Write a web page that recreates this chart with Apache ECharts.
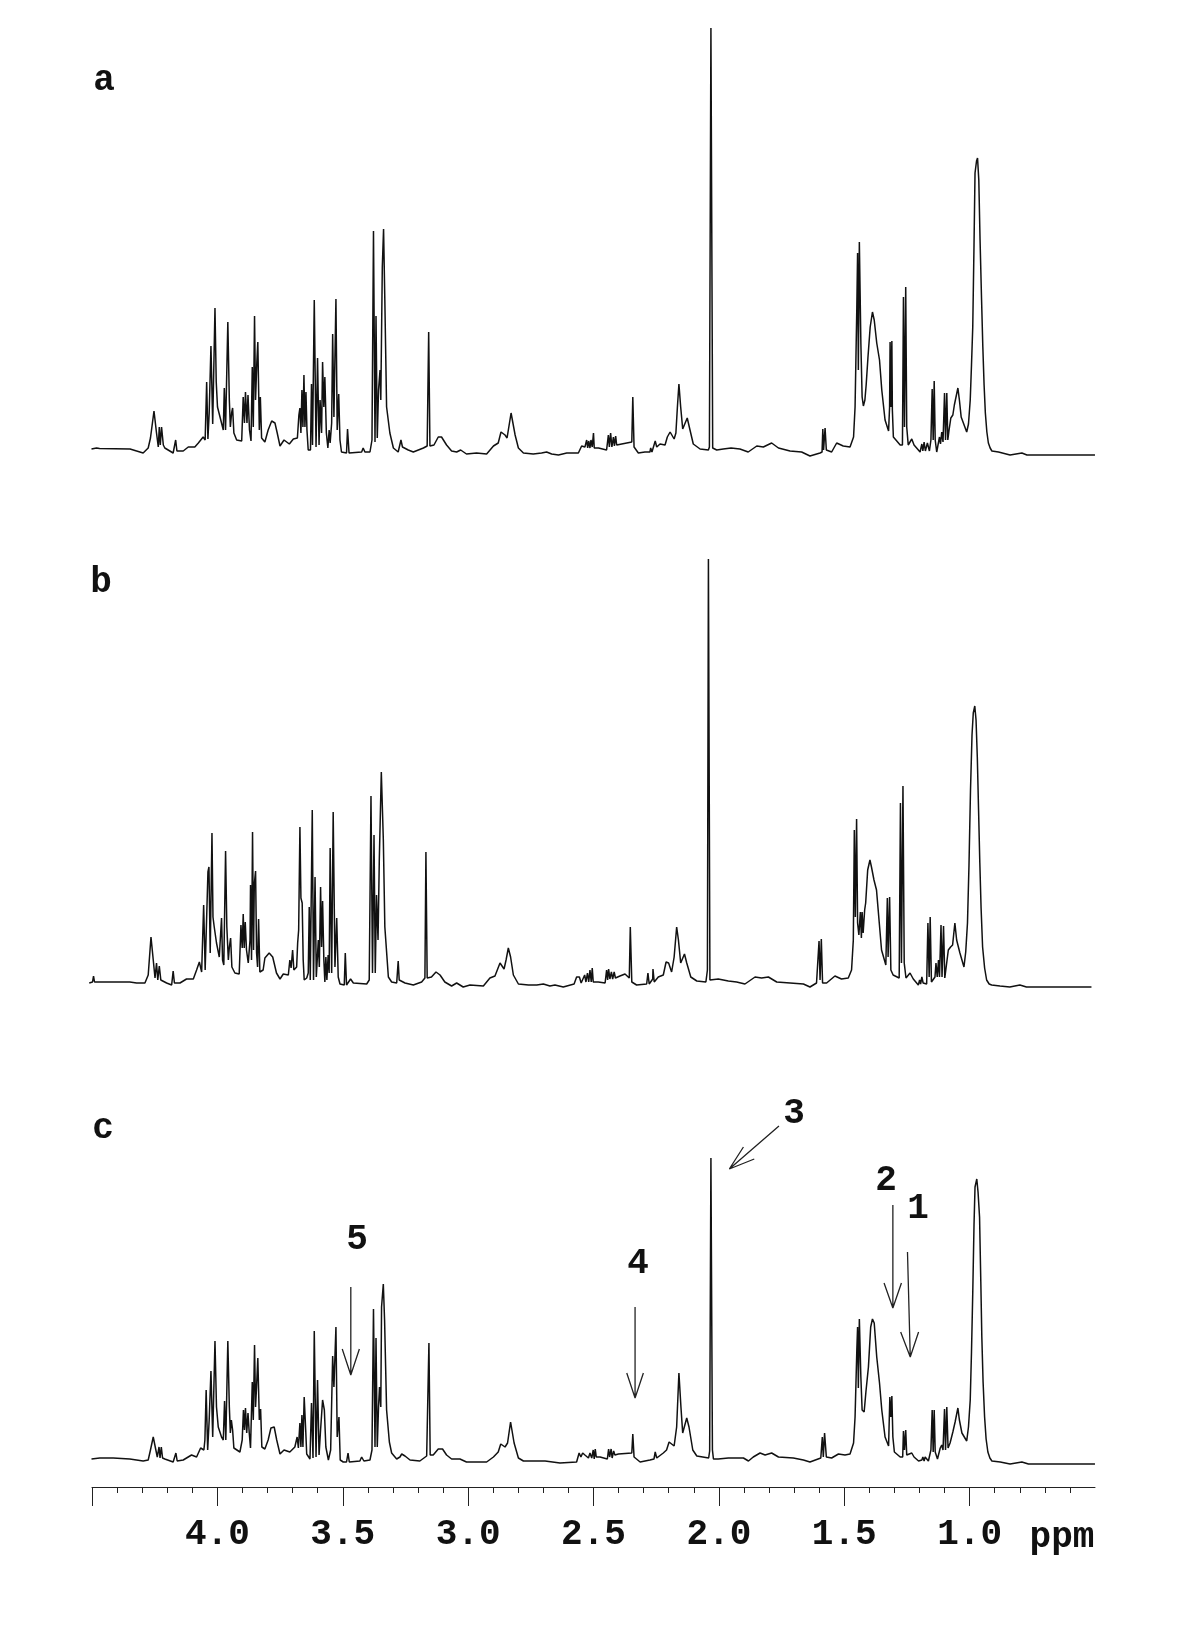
<!DOCTYPE html>
<html>
<head>
<meta charset="utf-8">
<title>1H NMR spectra</title>
<script src="https://cdn.jsdelivr.net/npm/echarts@6/dist/echarts.min.js"></script>
<style>
html, body { margin: 0; padding: 0; background: #fff; }
#main { width: 1200px; height: 1650px; }
</style>
</head>
<body>
<div id="main"></div>
<script>
// [ppm, intensity]
var spectrumA = [
[4.502,11],[4.482,12],[4.47,11.5],[4.349,11],[4.323,9],[4.297,7],[4.277,12],[4.268,22],[4.254,49],[4.244,27],[4.237,13],[4.233,33],[4.229,15],[4.224,33],[4.217,15],[4.211,12],
[4.178,7],[4.168,20],[4.163,9],[4.138,9],[4.118,13],[4.092,13],[4.078,17],[4.059,23],[4.051,20],[4.045,78],[4.04,21],[4.035,47],[4.028,114],[4.021,36],[4.012,152],[4.007,78],[4.002,53],[3.992,43],[3.979,30],[3.975,72],[3.97,30],[3.965,30],[3.961,138],[3.955,60],[3.951,33],[3.946,47],[3.942,52],[3.937,27],[3.926,20],[3.906,19],
[3.9,63],[3.895,37],[3.891,68],[3.885,37],[3.881,65],[3.875,30],[3.869,19],[3.864,93],[3.86,33],[3.855,144],[3.851,60],[3.846,97],[3.842,118],[3.836,30],[3.832,63],[3.827,22],[3.814,18],[3.801,30],[3.787,39],[3.774,37],[3.765,27],[3.754,14],[3.738,20],[3.717,16],[3.701,21],[3.685,22],[3.679,45],[3.675,52],[3.671,27],[3.667,70],[3.663,33],[3.659,85],[3.655,33],[3.651,68],[3.647,30],[3.642,10],[3.633,10],
[3.629,76],[3.625,15],[3.618,160],[3.611,13],[3.605,102],[3.599,15],[3.595,60],[3.589,27],[3.585,98],[3.58,53],[3.576,83],[3.57,27],[3.564,12],[3.559,30],[3.555,17],[3.549,37],[3.545,126],[3.54,43],[3.532,161],[3.527,30],[3.521,66],[3.516,20],[3.51,8],[3.49,7],[3.486,31],[3.48,7],[3.43,8],[3.424,12],[3.417,8],[3.397,8],[3.389,20],[3.383,229],[3.377,18],[3.373,144],[3.368,22],[3.363,70],[3.357,90],[3.354,60],[3.348,193],[3.343,231],[3.338,160],[3.331,53],[3.318,27],[3.304,12],[3.285,8],[3.274,20],[3.268,13],[3.245,10],[3.225,8],[3.185,12],[3.17,14],[3.164,128],[3.159,14],[3.143,15],[3.126,23],[3.113,23],[3.093,15],[3.073,9],[3.053,8],[3.037,10],[3.014,6],
[2.974,7],[2.934,6],[2.907,14],[2.888,17],[2.877,28],[2.861,25],[2.853,22],[2.837,47],[2.821,25],[2.808,12],[2.788,7],[2.749,6],[2.716,7],[2.696,8],[2.676,6],[2.649,5],[2.616,7],[2.57,7],[2.557,14],[2.544,13],[2.537,20],[2.533,12],[2.529,19],[2.524,12],[2.52,20],[2.515,13],[2.51,27],[2.507,12],[2.503,14],[2.49,12],[2.458,10],[2.451,25],[2.447,13],[2.442,27],[2.437,13],[2.431,23],[2.427,14],[2.422,24],[2.418,15],[2.411,17],[2.358,18],[2.354,63],[2.349,13],[2.332,7],[2.306,8],[2.286,8],[2.283,12],[2.278,8],[2.265,19],[2.259,13],[2.246,16],[2.226,15],[2.217,23],[2.206,28],[2.19,21],[2.183,27],[2.177,53],[2.171,76],[2.164,53],[2.156,31],[2.138,42],[2.127,30],[2.114,16],[2.087,11],[2.054,10],[2.05,13],[2.044,432],[2.037,12],[2.021,10],[1.995,11],[1.964,12],[1.929,11],[1.896,8],[1.862,14],[1.836,13],[1.803,17],[1.776,12],[1.73,9],[1.684,8],[1.651,4],[1.611,7],[1.603,8],[1.6,31],[1.597,10],[1.591,32],[1.586,10],[1.565,8],[1.545,17],[1.519,14],[1.492,13],
[1.478,23],[1.472,53],[1.465,153],[1.462,207],[1.459,90],[1.455,218],[1.449,117],[1.444,63],[1.439,54],[1.433,60],[1.428,75],[1.421,102],[1.412,133],[1.403,148],[1.396,140],[1.386,117],[1.375,100],[1.366,70],[1.353,40],[1.339,29],[1.335,53],[1.333,118],[1.33,53],[1.326,119],[1.324,50],[1.32,23],[1.293,15],[1.284,15],[1.28,163],[1.276,33],[1.271,173],[1.267,33],[1.261,15],[1.247,21],[1.238,15],[1.214,8],[1.207,16],[1.203,9],[1.198,18],[1.193,9],[1.185,17],[1.177,9],[1.171,20],[1.166,71],[1.162,20],[1.158,79],[1.154,20],[1.148,8],[1.137,23],[1.133,16],[1.128,28],[1.123,18],[1.117,67],[1.113,20],[1.108,67],[1.104,20],[1.099,30],[1.092,42],[1.084,45],[1.078,55],[1.071,57],[1.064,72],[1.058,60],[1.051,43],[1.029,28],[1.022,36],[1.015,60],[1.01,95],[1.005,133],[1,215],[0.996,287],[0.99,299],[0.986,302],[0.981,280],[0.976,220],[0.97,160],[0.965,113],[0.96,75],[0.955,47],[0.949,28],[0.943,17],[0.936,12],[0.929,9],[0.903,8],[0.857,5],[0.81,7],[0.79,5],[0.52,5]
];

var spectrumB = [
[4.503,17],[4.49,18],[4.486,24],[4.482,18],[4.342,18],[4.315,17],[4.282,17],[4.269,25],[4.258,63],[4.249,40],[4.242,22],[4.236,37],[4.231,20],[4.225,34],[4.219,20],[4.196,17],[4.176,15],[4.17,29],[4.165,17],[4.143,17],[4.117,21],[4.09,21],[4.077,30],[4.066,38],[4.057,28],[4.049,95],[4.043,30],[4.032,128],[4.028,133],[4.023,47],[4.016,167],[4.012,83],[4.007,73],[3.998,57],[3.987,43],[3.978,82],[3.974,40],[3.969,35],[3.962,149],[3.957,73],[3.951,40],[3.947,53],[3.942,62],[3.937,33],[3.925,27],[3.908,26],
[3.901,75],[3.896,52],[3.892,86],[3.888,52],[3.884,78],[3.879,50],[3.872,37],[3.865,60],[3.863,115],[3.859,40],[3.855,168],[3.851,50],[3.848,116],[3.843,129],[3.839,47],[3.835,33],[3.831,81],[3.826,28],[3.813,30],[3.806,42],[3.789,47],[3.775,43],[3.76,27],[3.746,21],[3.733,26],[3.713,25],[3.707,40],[3.702,32],[3.696,50],[3.691,30],[3.68,33],[3.676,57],[3.672,70],[3.667,173],[3.663,102],[3.658,97],[3.654,40],[3.65,20],[3.64,22],[3.634,27],
[3.63,93],[3.626,20],[3.618,190],[3.613,20],[3.607,123],[3.602,23],[3.594,60],[3.59,33],[3.585,113],[3.581,53],[3.577,99],[3.572,40],[3.568,18],[3.564,43],[3.56,20],[3.555,45],[3.551,27],[3.547,152],[3.541,27],[3.535,188],[3.528,33],[3.521,82],[3.515,23],[3.508,16],[3.491,15],[3.487,47],[3.482,15],[3.475,17],[3.466,21],[3.455,17],[3.402,16],[3.392,20],[3.385,204],[3.379,27],[3.373,165],[3.368,27],[3.363,105],[3.357,60],[3.352,140],[3.344,228],[3.336,160],[3.33,73],[3.316,23],[3.303,18],[3.283,17],[3.277,39],[3.273,20],[3.25,17],[3.217,15],[3.184,18],[3.171,22],[3.167,148],[3.162,22],[3.145,23],[3.127,28],[3.111,25],[3.092,18],[3.065,14],[3.045,17],[3.019,13],
[2.992,15],[2.939,14],[2.913,22],[2.893,24],[2.873,37],[2.857,31],[2.849,40],[2.84,52],[2.831,43],[2.82,25],[2.8,16],[2.76,15],[2.727,15],[2.701,16],[2.675,14],[2.655,15],[2.622,13],[2.579,16],[2.569,23],[2.558,23],[2.551,17],[2.537,25],[2.532,18],[2.526,27],[2.521,18],[2.516,30],[2.511,18],[2.507,32],[2.503,18],[2.483,18],[2.456,17],[2.45,30],[2.446,20],[2.442,31],[2.437,21],[2.431,28],[2.426,21],[2.42,28],[2.415,22],[2.397,24],[2.377,26],[2.36,22],[2.356,73],[2.35,18],[2.331,15],[2.291,16],[2.286,27],[2.281,16],[2.267,21],[2.266,31],[2.261,18],[2.245,23],[2.225,25],[2.214,38],[2.204,37],[2.192,28],[2.182,43],[2.172,73],[2.165,60],[2.156,37],[2.141,46],[2.132,37],[2.116,23],[2.092,19],[2.056,18],[2.05,30],[2.046,441],[2.04,20],[2.033,19],[2.007,21],[1.967,19],[1.96,21],[1.934,18],[1.901,16],[1.861,23],[1.835,22],[1.808,23],[1.775,18],[1.722,17],[1.669,16],[1.643,13],[1.617,17],[1.612,17],[1.607,59],[1.603,20],[1.598,61],[1.593,17],[1.577,17],[1.544,24],[1.518,21],[1.491,22],
[1.478,30],[1.471,60],[1.467,170],[1.463,83],[1.458,181],[1.454,77],[1.449,65],[1.443,88],[1.439,62],[1.436,88],[1.432,67],[1.426,90],[1.422,97],[1.414,130],[1.405,140],[1.399,133],[1.389,120],[1.379,110],[1.368,77],[1.359,50],[1.342,35],[1.336,102],[1.333,43],[1.327,103],[1.322,30],[1.313,25],[1.289,22],[1.284,197],[1.28,37],[1.274,214],[1.269,37],[1.262,22],[1.246,27],[1.233,21],[1.213,15],[1.208,20],[1.204,16],[1.199,23],[1.194,17],[1.18,16],[1.175,77],[1.17,23],[1.166,83],[1.161,18],[1.147,23],[1.143,37],[1.138,23],[1.133,40],[1.129,23],[1.123,75],[1.119,23],[1.113,74],[1.108,22],[1.094,50],[1.085,53],[1.077,55],[1.068,77],[1.061,60],[1.048,47],[1.032,33],[1.025,48],[1.018,77],[1.012,135],[1.006,210],[1,265],[0.995,287],[0.989,294],[0.984,280],[0.979,243],[0.974,190],[0.969,137],[0.964,92],[0.958,53],[0.95,32],[0.942,20],[0.932,16],[0.922,15],[0.889,14],[0.85,13],[0.81,15],[0.784,13],[0.526,13]
];

var spectrumC = [
[4.502,28],[4.469,29],[4.416,29],[4.35,28],[4.297,26],[4.277,27],[4.268,37],[4.257,50],[4.249,40],[4.241,30],[4.234,40],[4.23,29],[4.225,40],[4.22,29],[4.211,28],[4.178,25],[4.167,34],[4.162,26],[4.138,27],[4.105,32],[4.085,30],[4.069,39],[4.056,37],[4.052,47],[4.047,97],[4.041,37],[4.035,67],[4.028,116],[4.021,50],[4.012,146],[4.006,80],[3.999,60],[3.986,50],[3.979,47],[3.974,86],[3.969,47],[3.961,146],[3.955,80],[3.951,54],[3.947,67],[3.942,57],[3.937,39],[3.913,35],[3.904,47],
[3.899,77],[3.895,57],[3.891,79],[3.886,54],[3.881,74],[3.876,54],[3.871,39],[3.864,105],[3.86,67],[3.855,142],[3.851,80],[3.847,100],[3.842,129],[3.836,67],[3.831,78],[3.826,40],[3.814,38],[3.801,47],[3.79,59],[3.777,60],[3.767,47],[3.754,33],[3.738,37],[3.715,35],[3.695,40],[3.686,50],[3.681,39],[3.675,64],[3.671,40],[3.667,72],[3.663,40],[3.658,90],[3.652,57],[3.648,33],[3.635,28],
[3.629,84],[3.623,29],[3.618,156],[3.611,30],[3.605,107],[3.599,32],[3.593,57],[3.585,87],[3.578,77],[3.572,40],[3.562,27],[3.553,37],[3.545,131],[3.54,100],[3.532,160],[3.527,50],[3.52,70],[3.515,27],[3.503,25],[3.49,25],[3.484,34],[3.479,25],[3.437,26],[3.43,30],[3.421,26],[3.397,27],[3.389,37],[3.383,178],[3.377,40],[3.373,149],[3.368,40],[3.363,80],[3.359,100],[3.354,80],[3.351,180],[3.344,203],[3.339,167],[3.331,77],[3.32,45],[3.311,34],[3.291,28],[3.278,30],[3.271,33],[3.258,31],[3.238,27],[3.199,26],[3.172,31],[3.163,144],[3.158,32],[3.146,32],[3.126,38],[3.109,38],[3.093,32],[3.073,28],[3.04,28],[3.014,25],
[2.974,25],[2.934,25],[2.907,30],[2.888,35],[2.878,43],[2.861,40],[2.851,44],[2.839,65],[2.825,44],[2.808,29],[2.788,26],[2.702,26],[2.643,24],[2.577,25],[2.567,34],[2.56,30],[2.553,34],[2.544,32],[2.537,34],[2.53,29],[2.524,34],[2.517,29],[2.511,37],[2.507,28],[2.503,38],[2.499,30],[2.484,30],[2.455,28],[2.45,38],[2.446,30],[2.44,38],[2.436,29],[2.43,36],[2.425,32],[2.411,33],[2.358,34],[2.354,53],[2.349,30],[2.325,25],[2.286,27],[2.27,28],[2.265,35],[2.259,29],[2.233,34],[2.22,37],[2.21,45],[2.19,41],[2.18,60],[2.171,114],[2.163,80],[2.156,54],[2.14,69],[2.131,60],[2.116,37],[2.1,31],[2.053,29],[2.049,36],[2.044,329],[2.038,37],[2.034,28],[2.015,28],[1.975,29],[1.915,29],[1.895,26],[1.876,30],[1.849,34],[1.829,32],[1.803,34],[1.776,30],[1.717,29],[1.677,27],[1.651,25],[1.608,29],[1.602,50],[1.598,30],[1.593,54],[1.586,30],[1.565,29],[1.538,33],[1.512,32],[1.492,33],
[1.478,44],[1.472,70],[1.465,137],[1.462,160],[1.459,99],[1.455,168],[1.449,110],[1.444,77],[1.436,75],[1.429,95],[1.419,120],[1.41,160],[1.403,168],[1.396,164],[1.386,130],[1.375,104],[1.366,77],[1.353,50],[1.339,41],[1.334,90],[1.33,70],[1.326,91],[1.322,50],[1.316,35],[1.293,30],[1.283,30],[1.28,56],[1.276,37],[1.271,57],[1.267,32],[1.247,34],[1.238,30],[1.22,26],[1.207,27],[1.203,30],[1.198,26],[1.194,30],[1.181,26],[1.171,37],[1.166,77],[1.162,35],[1.158,77],[1.154,35],[1.145,28],[1.134,39],[1.128,42],[1.123,37],[1.117,78],[1.113,37],[1.108,80],[1.103,39],[1.095,44],[1.084,55],[1.075,65],[1.064,79],[1.058,67],[1.048,54],[1.029,46],[1.022,60],[1.015,87],[1.01,135],[1.005,194],[1,262],[0.996,300],[0.989,308],[0.984,295],[0.978,270],[0.973,205],[0.969,150],[0.964,105],[0.958,70],[0.952,48],[0.945,35],[0.937,29],[0.929,26],[0.896,25],[0.857,23],[0.81,25],[0.784,23],[0.52,23]
];

// arrows on spectrum c: shaft start, tip, head, tip, head
var arrow1 = [[1.264,235],[1.253,130],[1.291,155],[1.253,130],[1.22,155]];
var arrow2 = [[1.322,282],[1.322,179],[1.357,204],[1.322,179],[1.288,204]];
var arrow3 = [[1.774,361],[1.971,318],[1.915,340],[1.971,318],[1.872,328]];
var arrow4 = [[2.345,180],[2.345,89],[2.378,114],[2.345,89],[2.312,114]];
var arrow5 = [[3.473,200],[3.473,112],[3.507,138],[3.473,112],[3.439,138]];

// major ticks of the scale, the reference has none at 0.5
var majorTicks = [4.5, 4.0, 3.5, 3.0, 2.5, 2.0, 1.5, 1.0];

// ppm above were read against a scale 0.5% too short, pull them onto the printed ticks
var ppmStart = 4.5;
var ppmCalibration = 1.005;

var ink = '#111';
var monoFont = '"Liberation Mono", "DejaVu Sans Mono", monospace';

var chartDom = document.getElementById('main');
var myChart = echarts.init(chartDom);

function calibrate(trace) {
    return trace.map(function (p) {
        return [ppmStart - (ppmStart - p[0]) * ppmCalibration, p[1]];
    });
}

function traceSeries(data, index) {
    return {
        type: 'line',
        xAxisIndex: index,
        yAxisIndex: index,
        data: calibrate(data),
        showSymbol: false,
        silent: true,
        animation: false,
        sampling: false,
        lineStyle: { color: ink, width: 1.5 }
    };
}

function hiddenX(index) {
    return { gridIndex: index, type: 'value', inverse: true, min: 0.5, max: 4.5, show: false };
}

function hiddenY(index, max) {
    return { gridIndex: index, type: 'value', min: 0, max: max, show: false };
}

function bigText(text, x, y) {
    return {
        type: 'text',
        x: x,
        y: y,
        style: {
            text: text,
            fill: ink,
            font: 'bold 36px ' + monoFont,
            textAlign: 'center',
            textVerticalAlign: 'middle'
        }
    };
}

var series = [
    traceSeries(spectrumA, 0),
    traceSeries(spectrumB, 1),
    traceSeries(spectrumC, 2)
];
[arrow1, arrow2, arrow3, arrow4, arrow5].forEach(function (arrow) {
    var s = traceSeries(arrow, 2);
    s.lineStyle = { color: '#222', width: 1.3 };
    series.push(s);
});

var option = {
    backgroundColor: '#fff',
    animation: false,
    grid: [
        { left: 92, width: 1003, top: 20, height: 440 },
        { left: 90, width: 1003, top: 530, height: 470 },
        { left: 92, width: 1003, top: 1020, height: 467 }
    ],
    xAxis: [
        hiddenX(0),
        hiddenX(1),
        {
            gridIndex: 2,
            type: 'value',
            inverse: true,
            min: 0.5,
            max: 4.5,
            interval: 0.5,
            axisLine: { show: true, onZero: false, lineStyle: { color: '#222', width: 1 } },
            axisTick: { show: true, length: 19, customValues: majorTicks, lineStyle: { color: '#222', width: 1 } },
            minorTick: { show: true, splitNumber: 5, length: 6, lineStyle: { color: '#222', width: 1 } },
            splitLine: { show: false },
            axisLabel: {
                margin: 30,
                color: ink,
                fontFamily: monoFont,
                fontWeight: 'bold',
                fontSize: 36,
                showMinLabel: false,
                showMaxLabel: false,
                formatter: function (v) {
                    return v.toFixed(1);
                }
            }
        }
    ],
    yAxis: [hiddenY(0, 440), hiddenY(1, 470), hiddenY(2, 467)],
    graphic: [
        bigText('a', 104, 81),
        bigText('b', 101, 583),
        bigText('c', 103, 1129),
        bigText('1', 918, 1209),
        bigText('2', 886, 1181),
        bigText('3', 794, 1114),
        bigText('4', 638, 1264),
        bigText('5', 357, 1240),
        bigText('ppm', 1062, 1538)
    ],
    series: series
};

option && myChart.setOption(option);
</script>
</body>
</html>
